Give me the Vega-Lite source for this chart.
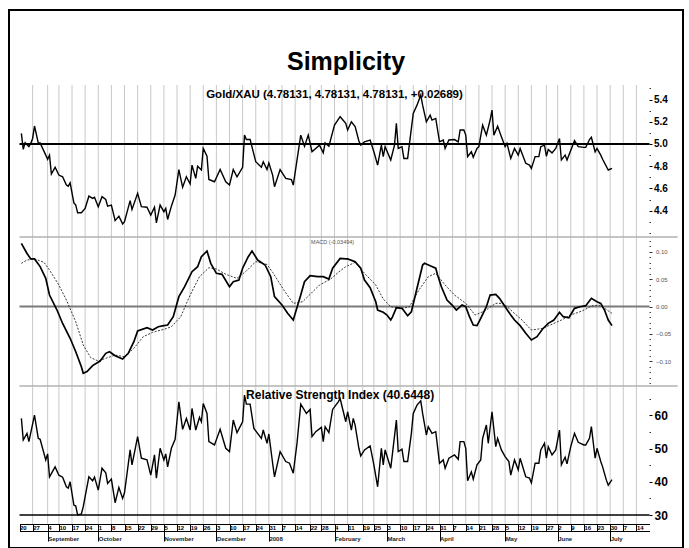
{
  "$schema": "https://vega.github.io/schema/vega-lite/v6.json",
  "width": 674,
  "height": 538,
  "padding": {"left": 9, "top": 10, "right": 6, "bottom": 0},
  "autosize": {"type": "none"},
  "background": "white",
  "config": {"view": {"stroke": "black", "strokeWidth": 2}, "font": "Liberation Sans"},
  "title": {"text": "Simplicity", "font": "Liberation Sans", "fontSize": 25, "fontWeight": "bold", "color": "black", "anchor": "middle", "frame": "group", "baseline": "alphabetic", "offset": -85},
  "datasets": {
    "weeks": [
      {"d": "2007-08-27"}, {"d": "2007-09-04"}, {"d": "2007-09-10"}, {"d": "2007-09-17"}, {"d": "2007-09-24"},
      {"d": "2007-10-01"}, {"d": "2007-10-08"}, {"d": "2007-10-15"}, {"d": "2007-10-22"}, {"d": "2007-10-29"},
      {"d": "2007-11-05"}, {"d": "2007-11-12"}, {"d": "2007-11-19"}, {"d": "2007-11-26"}, {"d": "2007-12-03"},
      {"d": "2007-12-10"}, {"d": "2007-12-17"}, {"d": "2007-12-24"}, {"d": "2007-12-31"}, {"d": "2008-01-07"},
      {"d": "2008-01-14"}, {"d": "2008-01-22"}, {"d": "2008-01-28"}, {"d": "2008-02-04"}, {"d": "2008-02-11"},
      {"d": "2008-02-19"}, {"d": "2008-02-25"}, {"d": "2008-03-03"}, {"d": "2008-03-10"}, {"d": "2008-03-17"},
      {"d": "2008-03-24"}, {"d": "2008-03-31"}, {"d": "2008-04-07"}, {"d": "2008-04-14"}, {"d": "2008-04-21"},
      {"d": "2008-04-28"}, {"d": "2008-05-05"}, {"d": "2008-05-12"}, {"d": "2008-05-19"}, {"d": "2008-05-27"},
      {"d": "2008-06-02"}, {"d": "2008-06-09"}, {"d": "2008-06-16"}, {"d": "2008-06-23"}, {"d": "2008-06-30"},
      {"d": "2008-07-07"}, {"d": "2008-07-14"}
    ],
    "price": [
      {"date": "2007-08-21", "value": 5.096}, {"date": "2007-08-22", "value": 4.952}, {"date": "2007-08-23", "value": 5.012},
      {"date": "2007-08-25", "value": 4.976}, {"date": "2007-08-26", "value": 5.006}, {"date": "2007-08-27", "value": 5.05},
      {"date": "2007-08-28", "value": 5.162}, {"date": "2007-08-30", "value": 5.01}, {"date": "2007-08-31", "value": 5.01},
      {"date": "2007-09-03", "value": 4.9}, {"date": "2007-09-04", "value": 4.862}, {"date": "2007-09-05", "value": 4.9},
      {"date": "2007-09-06", "value": 4.73}, {"date": "2007-09-08", "value": 4.79}, {"date": "2007-09-10", "value": 4.72},
      {"date": "2007-09-12", "value": 4.705}, {"date": "2007-09-14", "value": 4.63}, {"date": "2007-09-15", "value": 4.62},
      {"date": "2007-09-16", "value": 4.65}, {"date": "2007-09-18", "value": 4.47}, {"date": "2007-09-19", "value": 4.45},
      {"date": "2007-09-20", "value": 4.38}, {"date": "2007-09-22", "value": 4.38}, {"date": "2007-09-24", "value": 4.42},
      {"date": "2007-09-26", "value": 4.53}, {"date": "2007-09-28", "value": 4.51}, {"date": "2007-09-29", "value": 4.52},
      {"date": "2007-10-01", "value": 4.435}, {"date": "2007-10-03", "value": 4.525}, {"date": "2007-10-05", "value": 4.5},
      {"date": "2007-10-06", "value": 4.44}, {"date": "2007-10-08", "value": 4.45}, {"date": "2007-10-10", "value": 4.31},
      {"date": "2007-10-12", "value": 4.35}, {"date": "2007-10-14", "value": 4.28}, {"date": "2007-10-15", "value": 4.3},
      {"date": "2007-10-18", "value": 4.49}, {"date": "2007-10-19", "value": 4.41}, {"date": "2007-10-22", "value": 4.556},
      {"date": "2007-10-24", "value": 4.435}, {"date": "2007-10-27", "value": 4.43}, {"date": "2007-10-29", "value": 4.36},
      {"date": "2007-10-31", "value": 4.43}, {"date": "2007-11-01", "value": 4.29}, {"date": "2007-11-03", "value": 4.45},
      {"date": "2007-11-05", "value": 4.39}, {"date": "2007-11-06", "value": 4.42}, {"date": "2007-11-07", "value": 4.32},
      {"date": "2007-11-09", "value": 4.44}, {"date": "2007-11-11", "value": 4.54}, {"date": "2007-11-13", "value": 4.77},
      {"date": "2007-11-15", "value": 4.61}, {"date": "2007-11-17", "value": 4.705}, {"date": "2007-11-19", "value": 4.64},
      {"date": "2007-11-20", "value": 4.81}, {"date": "2007-11-22", "value": 4.69}, {"date": "2007-11-23", "value": 4.8},
      {"date": "2007-11-25", "value": 4.766}, {"date": "2007-11-26", "value": 4.96}, {"date": "2007-11-28", "value": 4.89},
      {"date": "2007-11-29", "value": 4.68}, {"date": "2007-12-02", "value": 4.66}, {"date": "2007-12-05", "value": 4.77},
      {"date": "2007-12-08", "value": 4.66}, {"date": "2007-12-10", "value": 4.63}, {"date": "2007-12-12", "value": 4.77},
      {"date": "2007-12-14", "value": 4.705}, {"date": "2007-12-17", "value": 4.79}, {"date": "2007-12-18", "value": 5.08},
      {"date": "2007-12-19", "value": 5.04}, {"date": "2007-12-21", "value": 5.04}, {"date": "2007-12-24", "value": 4.84},
      {"date": "2007-12-27", "value": 4.79}, {"date": "2007-12-28", "value": 4.84}, {"date": "2007-12-30", "value": 4.77},
      {"date": "2007-12-31", "value": 4.83}, {"date": "2008-01-02", "value": 4.72}, {"date": "2008-01-03", "value": 4.615},
      {"date": "2008-01-06", "value": 4.77}, {"date": "2008-01-09", "value": 4.69}, {"date": "2008-01-12", "value": 4.68},
      {"date": "2008-01-13", "value": 4.63}, {"date": "2008-01-17", "value": 5.08}, {"date": "2008-01-19", "value": 4.98},
      {"date": "2008-01-21", "value": 5.08}, {"date": "2008-01-23", "value": 4.93}, {"date": "2008-01-27", "value": 4.99},
      {"date": "2008-01-29", "value": 4.92}, {"date": "2008-01-30", "value": 5.01}, {"date": "2008-02-01", "value": 4.98},
      {"date": "2008-02-04", "value": 5.17}, {"date": "2008-02-07", "value": 5.246}, {"date": "2008-02-10", "value": 5.186},
      {"date": "2008-02-11", "value": 5.126}, {"date": "2008-02-13", "value": 5.2}, {"date": "2008-02-15", "value": 5.156},
      {"date": "2008-02-17", "value": 5.027}, {"date": "2008-02-18", "value": 4.99}, {"date": "2008-02-20", "value": 5.02},
      {"date": "2008-02-23", "value": 5.036}, {"date": "2008-02-25", "value": 4.93}, {"date": "2008-02-27", "value": 4.81},
      {"date": "2008-02-29", "value": 4.99}, {"date": "2008-03-01", "value": 4.886}, {"date": "2008-03-02", "value": 4.976},
      {"date": "2008-03-05", "value": 4.856}, {"date": "2008-03-07", "value": 4.99}, {"date": "2008-03-08", "value": 5.186},
      {"date": "2008-03-09", "value": 4.96}, {"date": "2008-03-11", "value": 4.976}, {"date": "2008-03-12", "value": 4.87},
      {"date": "2008-03-14", "value": 4.87}, {"date": "2008-03-15", "value": 5.006}, {"date": "2008-03-17", "value": 5.276},
      {"date": "2008-03-19", "value": 5.35}, {"date": "2008-03-21", "value": 5.44}, {"date": "2008-03-22", "value": 5.35},
      {"date": "2008-03-24", "value": 5.2}, {"date": "2008-03-26", "value": 5.26}, {"date": "2008-03-27", "value": 5.216},
      {"date": "2008-03-29", "value": 5.23}, {"date": "2008-03-31", "value": 5.02}, {"date": "2008-04-02", "value": 5.036},
      {"date": "2008-04-03", "value": 4.96}, {"date": "2008-04-05", "value": 5.036}, {"date": "2008-04-08", "value": 5.04},
      {"date": "2008-04-10", "value": 5.02}, {"date": "2008-04-11", "value": 5.126}, {"date": "2008-04-13", "value": 5.126},
      {"date": "2008-04-14", "value": 5.08}, {"date": "2008-04-15", "value": 4.886}, {"date": "2008-04-17", "value": 4.93},
      {"date": "2008-04-18", "value": 4.88}, {"date": "2008-04-20", "value": 4.96}, {"date": "2008-04-21", "value": 4.976},
      {"date": "2008-04-23", "value": 5.17}, {"date": "2008-04-25", "value": 5.08}, {"date": "2008-04-27", "value": 5.216},
      {"date": "2008-04-28", "value": 5.306}, {"date": "2008-04-29", "value": 5.08}, {"date": "2008-05-01", "value": 5.16},
      {"date": "2008-05-03", "value": 5.066}, {"date": "2008-05-05", "value": 4.976}, {"date": "2008-05-06", "value": 5.006},
      {"date": "2008-05-08", "value": 4.87}, {"date": "2008-05-10", "value": 4.96}, {"date": "2008-05-12", "value": 4.9},
      {"date": "2008-05-13", "value": 4.96}, {"date": "2008-05-16", "value": 4.826}, {"date": "2008-05-18", "value": 4.81},
      {"date": "2008-05-19", "value": 4.78}, {"date": "2008-05-21", "value": 4.886}, {"date": "2008-05-23", "value": 4.886},
      {"date": "2008-05-24", "value": 4.976}, {"date": "2008-05-26", "value": 4.99}, {"date": "2008-05-27", "value": 4.89},
      {"date": "2008-05-28", "value": 4.95}, {"date": "2008-05-30", "value": 4.92}, {"date": "2008-06-01", "value": 4.96},
      {"date": "2008-06-03", "value": 5.05}, {"date": "2008-06-04", "value": 4.856}, {"date": "2008-06-06", "value": 4.9},
      {"date": "2008-06-07", "value": 4.856}, {"date": "2008-06-11", "value": 5.03}, {"date": "2008-06-13", "value": 4.976},
      {"date": "2008-06-16", "value": 4.97}, {"date": "2008-06-17", "value": 4.97}, {"date": "2008-06-19", "value": 5.04},
      {"date": "2008-06-20", "value": 5.06}, {"date": "2008-06-22", "value": 4.93}, {"date": "2008-06-23", "value": 4.96},
      {"date": "2008-06-25", "value": 4.9}, {"date": "2008-06-26", "value": 4.862}, {"date": "2008-06-29", "value": 4.766},
      {"date": "2008-07-01", "value": 4.78131}
    ],
    "macd": [
      {"date": "2007-08-21", "value": 0.1155}, {"date": "2007-08-24", "value": 0.097}, {"date": "2007-08-26", "value": 0.087},
      {"date": "2007-08-28", "value": 0.087}, {"date": "2007-08-31", "value": 0.073}, {"date": "2007-09-03", "value": 0.0515},
      {"date": "2007-09-05", "value": 0.021}, {"date": "2007-09-09", "value": -0.0064}, {"date": "2007-09-12", "value": -0.031},
      {"date": "2007-09-16", "value": -0.058}, {"date": "2007-09-19", "value": -0.0826}, {"date": "2007-09-22", "value": -0.11},
      {"date": "2007-09-23", "value": -0.122}, {"date": "2007-09-25", "value": -0.119}, {"date": "2007-09-28", "value": -0.108},
      {"date": "2007-10-02", "value": -0.0996}, {"date": "2007-10-05", "value": -0.0856}, {"date": "2007-10-07", "value": -0.0826},
      {"date": "2007-10-10", "value": -0.09}, {"date": "2007-10-14", "value": -0.096}, {"date": "2007-10-17", "value": -0.0856},
      {"date": "2007-10-20", "value": -0.0643}, {"date": "2007-10-22", "value": -0.0448}, {"date": "2007-10-27", "value": -0.0387},
      {"date": "2007-10-30", "value": -0.043}, {"date": "2007-11-02", "value": -0.037}, {"date": "2007-11-05", "value": -0.035},
      {"date": "2007-11-07", "value": -0.0338}, {"date": "2007-11-10", "value": -0.0186}, {"date": "2007-11-13", "value": 0.018},
      {"date": "2007-11-16", "value": 0.036}, {"date": "2007-11-20", "value": 0.0636}, {"date": "2007-11-23", "value": 0.0728},
      {"date": "2007-11-25", "value": 0.091}, {"date": "2007-11-28", "value": 0.1015}, {"date": "2007-11-30", "value": 0.079},
      {"date": "2007-12-03", "value": 0.0607}, {"date": "2007-12-06", "value": 0.0589}, {"date": "2007-12-10", "value": 0.0362},
      {"date": "2007-12-12", "value": 0.0453}, {"date": "2007-12-15", "value": 0.0484}, {"date": "2007-12-17", "value": 0.07},
      {"date": "2007-12-20", "value": 0.091}, {"date": "2007-12-22", "value": 0.1015}, {"date": "2007-12-25", "value": 0.085},
      {"date": "2007-12-29", "value": 0.0759}, {"date": "2008-01-01", "value": 0.0545}, {"date": "2008-01-03", "value": 0.018},
      {"date": "2008-01-07", "value": 0.0027}, {"date": "2008-01-10", "value": -0.0124}, {"date": "2008-01-13", "value": -0.0247},
      {"date": "2008-01-17", "value": 0.021}, {"date": "2008-01-19", "value": 0.0453}, {"date": "2008-01-22", "value": 0.0563},
      {"date": "2008-01-26", "value": 0.0545}, {"date": "2008-01-29", "value": 0.0545}, {"date": "2008-02-01", "value": 0.0503},
      {"date": "2008-02-03", "value": 0.07}, {"date": "2008-02-07", "value": 0.088}, {"date": "2008-02-10", "value": 0.087},
      {"date": "2008-02-11", "value": 0.087}, {"date": "2008-02-15", "value": 0.082}, {"date": "2008-02-18", "value": 0.07},
      {"date": "2008-02-20", "value": 0.0484}, {"date": "2008-02-23", "value": 0.0344}, {"date": "2008-02-26", "value": 0.0088},
      {"date": "2008-02-27", "value": -0.0064}, {"date": "2008-03-01", "value": -0.0106}, {"date": "2008-03-03", "value": -0.0155},
      {"date": "2008-03-05", "value": -0.0247}, {"date": "2008-03-06", "value": -0.0186}, {"date": "2008-03-08", "value": -0.0022},
      {"date": "2008-03-11", "value": -0.0033}, {"date": "2008-03-13", "value": -0.0124}, {"date": "2008-03-14", "value": -0.0168},
      {"date": "2008-03-16", "value": -0.0095}, {"date": "2008-03-19", "value": 0.0333}, {"date": "2008-03-22", "value": 0.0759},
      {"date": "2008-03-23", "value": 0.079}, {"date": "2008-03-26", "value": 0.0746}, {"date": "2008-03-29", "value": 0.07},
      {"date": "2008-03-30", "value": 0.0576}, {"date": "2008-04-01", "value": 0.0362}, {"date": "2008-04-04", "value": 0.0119},
      {"date": "2008-04-07", "value": 0.0015}, {"date": "2008-04-09", "value": -0.0064}, {"date": "2008-04-12", "value": 0.0027},
      {"date": "2008-04-14", "value": -0.0004}, {"date": "2008-04-16", "value": -0.0186}, {"date": "2008-04-18", "value": -0.0338},
      {"date": "2008-04-20", "value": -0.035}, {"date": "2008-04-22", "value": -0.0216}, {"date": "2008-04-25", "value": -0.0004},
      {"date": "2008-04-27", "value": 0.021}, {"date": "2008-04-30", "value": 0.0223}, {"date": "2008-05-02", "value": 0.015},
      {"date": "2008-05-05", "value": -0.0004}, {"date": "2008-05-08", "value": -0.0155}, {"date": "2008-05-10", "value": -0.0247},
      {"date": "2008-05-13", "value": -0.035}, {"date": "2008-05-16", "value": -0.049}, {"date": "2008-05-19", "value": -0.0612},
      {"date": "2008-05-22", "value": -0.0552}, {"date": "2008-05-25", "value": -0.0411}, {"date": "2008-05-28", "value": -0.0307},
      {"date": "2008-05-31", "value": -0.0247}, {"date": "2008-06-03", "value": -0.0106}, {"date": "2008-06-05", "value": -0.0186},
      {"date": "2008-06-08", "value": -0.0205}, {"date": "2008-06-11", "value": -0.0033}, {"date": "2008-06-14", "value": -0.0004},
      {"date": "2008-06-17", "value": 0.0015}, {"date": "2008-06-20", "value": 0.015}, {"date": "2008-06-23", "value": 0.0088},
      {"date": "2008-06-25", "value": 0.0058}, {"date": "2008-06-27", "value": -0.0064}, {"date": "2008-06-29", "value": -0.0247},
      {"date": "2008-07-01", "value": -0.03494}
    ],
    "signal": [
      {"date": "2007-08-21", "value": 0.079}, {"date": "2007-08-24", "value": 0.085}, {"date": "2007-08-28", "value": 0.087},
      {"date": "2007-09-02", "value": 0.081}, {"date": "2007-09-05", "value": 0.0667}, {"date": "2007-09-10", "value": 0.0393},
      {"date": "2007-09-14", "value": 0.0119}, {"date": "2007-09-19", "value": -0.0278}, {"date": "2007-09-23", "value": -0.0704},
      {"date": "2007-09-27", "value": -0.0936}, {"date": "2007-10-01", "value": -0.0996}, {"date": "2007-10-05", "value": -0.0947},
      {"date": "2007-10-10", "value": -0.0887}, {"date": "2007-10-15", "value": -0.0918}, {"date": "2007-10-20", "value": -0.0764},
      {"date": "2007-10-25", "value": -0.0552}, {"date": "2007-10-30", "value": -0.0472}, {"date": "2007-11-05", "value": -0.0417},
      {"date": "2007-11-09", "value": -0.037}, {"date": "2007-11-14", "value": -0.0186}, {"date": "2007-11-19", "value": 0.021},
      {"date": "2007-11-24", "value": 0.0545}, {"date": "2007-11-29", "value": 0.071}, {"date": "2007-12-03", "value": 0.0686},
      {"date": "2007-12-08", "value": 0.0589}, {"date": "2007-12-14", "value": 0.0516}, {"date": "2007-12-19", "value": 0.065},
      {"date": "2007-12-24", "value": 0.082}, {"date": "2007-12-30", "value": 0.077}, {"date": "2008-01-02", "value": 0.0625},
      {"date": "2008-01-08", "value": 0.03}, {"date": "2008-01-13", "value": 0.0058}, {"date": "2008-01-18", "value": 0.0088},
      {"date": "2008-01-22", "value": 0.0223}, {"date": "2008-01-27", "value": 0.0393}, {"date": "2008-02-02", "value": 0.0503},
      {"date": "2008-02-06", "value": 0.0625}, {"date": "2008-02-10", "value": 0.0728}, {"date": "2008-02-15", "value": 0.0808},
      {"date": "2008-02-20", "value": 0.0607}, {"date": "2008-02-26", "value": 0.0393}, {"date": "2008-03-01", "value": 0.0137},
      {"date": "2008-03-05", "value": -0.0004}, {"date": "2008-03-11", "value": -0.0033}, {"date": "2008-03-15", "value": -0.0004},
      {"date": "2008-03-20", "value": 0.03}, {"date": "2008-03-25", "value": 0.0545}, {"date": "2008-03-29", "value": 0.0607},
      {"date": "2008-04-03", "value": 0.0393}, {"date": "2008-04-08", "value": 0.021}, {"date": "2008-04-14", "value": 0.0058},
      {"date": "2008-04-19", "value": -0.0155}, {"date": "2008-04-24", "value": -0.0082}, {"date": "2008-04-30", "value": 0.0058},
      {"date": "2008-05-04", "value": 0.0058}, {"date": "2008-05-08", "value": -0.0064}, {"date": "2008-05-14", "value": -0.0247},
      {"date": "2008-05-19", "value": -0.043}, {"date": "2008-05-25", "value": -0.04}, {"date": "2008-05-30", "value": -0.0325},
      {"date": "2008-06-04", "value": -0.0247}, {"date": "2008-06-09", "value": -0.0155}, {"date": "2008-06-15", "value": -0.0082},
      {"date": "2008-06-20", "value": 0.0009}, {"date": "2008-06-24", "value": 0.0027}, {"date": "2008-06-27", "value": -0.0033},
      {"date": "2008-07-01", "value": -0.0124}
    ],
    "rsi": [
      {"date": "2007-08-21", "value": 59.1}, {"date": "2007-08-22", "value": 52.6}, {"date": "2007-08-24", "value": 54.6},
      {"date": "2007-08-25", "value": 52.1}, {"date": "2007-08-28", "value": 60.1}, {"date": "2007-08-30", "value": 53.1},
      {"date": "2007-08-31", "value": 52.8}, {"date": "2007-09-03", "value": 46.6}, {"date": "2007-09-04", "value": 48.4},
      {"date": "2007-09-05", "value": 41.5}, {"date": "2007-09-08", "value": 44.5}, {"date": "2007-09-10", "value": 42.0},
      {"date": "2007-09-12", "value": 41.4}, {"date": "2007-09-14", "value": 38.5}, {"date": "2007-09-15", "value": 38.1},
      {"date": "2007-09-16", "value": 40.0}, {"date": "2007-09-18", "value": 33.0}, {"date": "2007-09-19", "value": 32.7},
      {"date": "2007-09-20", "value": 30.0}, {"date": "2007-09-22", "value": 30.3}, {"date": "2007-09-23", "value": 32.5},
      {"date": "2007-09-26", "value": 41.5}, {"date": "2007-09-28", "value": 40.3}, {"date": "2007-09-29", "value": 41.4},
      {"date": "2007-10-01", "value": 37.5}, {"date": "2007-10-03", "value": 44.1}, {"date": "2007-10-05", "value": 42.7},
      {"date": "2007-10-06", "value": 39.5}, {"date": "2007-10-08", "value": 40.8}, {"date": "2007-10-10", "value": 33.7},
      {"date": "2007-10-12", "value": 38.3}, {"date": "2007-10-14", "value": 35.0}, {"date": "2007-10-15", "value": 36.7},
      {"date": "2007-10-18", "value": 49.6}, {"date": "2007-10-19", "value": 45.1}, {"date": "2007-10-22", "value": 53.6},
      {"date": "2007-10-24", "value": 47.1}, {"date": "2007-10-27", "value": 46.6}, {"date": "2007-10-29", "value": 42.0},
      {"date": "2007-10-31", "value": 48.1}, {"date": "2007-11-01", "value": 41.1}, {"date": "2007-11-03", "value": 50.1},
      {"date": "2007-11-05", "value": 46.6}, {"date": "2007-11-06", "value": 48.4}, {"date": "2007-11-07", "value": 44.5},
      {"date": "2007-11-09", "value": 50.1}, {"date": "2007-11-11", "value": 52.8}, {"date": "2007-11-13", "value": 64.1},
      {"date": "2007-11-15", "value": 55.8}, {"date": "2007-11-17", "value": 59.1}, {"date": "2007-11-19", "value": 55.6},
      {"date": "2007-11-20", "value": 62.1}, {"date": "2007-11-22", "value": 55.6}, {"date": "2007-11-24", "value": 59.4},
      {"date": "2007-11-25", "value": 58.1}, {"date": "2007-11-26", "value": 63.6}, {"date": "2007-11-28", "value": 60.6},
      {"date": "2007-11-29", "value": 52.1}, {"date": "2007-12-02", "value": 51.1}, {"date": "2007-12-05", "value": 55.8},
      {"date": "2007-12-08", "value": 50.1}, {"date": "2007-12-10", "value": 49.1}, {"date": "2007-12-12", "value": 58.6},
      {"date": "2007-12-14", "value": 54.8}, {"date": "2007-12-17", "value": 58.1}, {"date": "2007-12-18", "value": 66.1},
      {"date": "2007-12-19", "value": 63.4}, {"date": "2007-12-21", "value": 63.4}, {"date": "2007-12-23", "value": 56.1},
      {"date": "2007-12-27", "value": 53.1}, {"date": "2007-12-28", "value": 55.6}, {"date": "2007-12-30", "value": 51.6},
      {"date": "2007-12-31", "value": 54.4}, {"date": "2008-01-02", "value": 45.6}, {"date": "2008-01-03", "value": 41.5},
      {"date": "2008-01-06", "value": 49.1}, {"date": "2008-01-09", "value": 46.1}, {"date": "2008-01-11", "value": 45.6},
      {"date": "2008-01-13", "value": 42.6}, {"date": "2008-01-15", "value": 51.6}, {"date": "2008-01-17", "value": 63.4},
      {"date": "2008-01-20", "value": 60.6}, {"date": "2008-01-22", "value": 61.8}, {"date": "2008-01-23", "value": 53.6},
      {"date": "2008-01-25", "value": 55.1}, {"date": "2008-01-28", "value": 56.4}, {"date": "2008-01-29", "value": 52.1},
      {"date": "2008-01-30", "value": 56.6}, {"date": "2008-02-01", "value": 54.8}, {"date": "2008-02-03", "value": 61.8},
      {"date": "2008-02-06", "value": 64.1}, {"date": "2008-02-07", "value": 65.1}, {"date": "2008-02-10", "value": 58.1},
      {"date": "2008-02-11", "value": 61.1}, {"date": "2008-02-13", "value": 55.6}, {"date": "2008-02-14", "value": 59.1},
      {"date": "2008-02-15", "value": 57.1}, {"date": "2008-02-17", "value": 50.1}, {"date": "2008-02-18", "value": 47.8},
      {"date": "2008-02-20", "value": 49.6}, {"date": "2008-02-23", "value": 50.8}, {"date": "2008-02-25", "value": 45.1},
      {"date": "2008-02-27", "value": 38.5}, {"date": "2008-02-29", "value": 50.1}, {"date": "2008-03-01", "value": 45.1},
      {"date": "2008-03-02", "value": 49.6}, {"date": "2008-03-05", "value": 44.1}, {"date": "2008-03-08", "value": 58.6},
      {"date": "2008-03-09", "value": 49.1}, {"date": "2008-03-11", "value": 49.8}, {"date": "2008-03-12", "value": 46.1},
      {"date": "2008-03-14", "value": 46.1}, {"date": "2008-03-16", "value": 54.6}, {"date": "2008-03-17", "value": 60.6},
      {"date": "2008-03-19", "value": 63.1}, {"date": "2008-03-21", "value": 64.4}, {"date": "2008-03-22", "value": 60.6},
      {"date": "2008-03-24", "value": 54.1}, {"date": "2008-03-25", "value": 56.6}, {"date": "2008-03-27", "value": 54.6},
      {"date": "2008-03-29", "value": 55.1}, {"date": "2008-03-31", "value": 45.6}, {"date": "2008-04-02", "value": 46.6},
      {"date": "2008-04-03", "value": 44.1}, {"date": "2008-04-05", "value": 47.1}, {"date": "2008-04-08", "value": 48.1},
      {"date": "2008-04-10", "value": 46.8}, {"date": "2008-04-11", "value": 52.1}, {"date": "2008-04-13", "value": 52.1},
      {"date": "2008-04-14", "value": 50.1}, {"date": "2008-04-15", "value": 40.3}, {"date": "2008-04-17", "value": 43.0},
      {"date": "2008-04-18", "value": 40.8}, {"date": "2008-04-20", "value": 45.1}, {"date": "2008-04-22", "value": 46.6},
      {"date": "2008-04-23", "value": 53.1}, {"date": "2008-04-25", "value": 57.1}, {"date": "2008-04-26", "value": 51.6},
      {"date": "2008-04-28", "value": 61.1}, {"date": "2008-04-30", "value": 50.6}, {"date": "2008-05-01", "value": 53.1},
      {"date": "2008-05-03", "value": 49.6}, {"date": "2008-05-05", "value": 47.6}, {"date": "2008-05-07", "value": 46.1},
      {"date": "2008-05-08", "value": 42.0}, {"date": "2008-05-10", "value": 46.6}, {"date": "2008-05-12", "value": 43.6},
      {"date": "2008-05-13", "value": 47.1}, {"date": "2008-05-16", "value": 41.5}, {"date": "2008-05-18", "value": 41.1},
      {"date": "2008-05-19", "value": 39.7}, {"date": "2008-05-21", "value": 45.6}, {"date": "2008-05-23", "value": 45.6},
      {"date": "2008-05-24", "value": 49.6}, {"date": "2008-05-26", "value": 51.6}, {"date": "2008-05-27", "value": 47.1},
      {"date": "2008-05-28", "value": 50.6}, {"date": "2008-05-30", "value": 48.1}, {"date": "2008-06-01", "value": 49.6},
      {"date": "2008-06-03", "value": 55.6}, {"date": "2008-06-04", "value": 45.1}, {"date": "2008-06-06", "value": 47.4},
      {"date": "2008-06-07", "value": 45.4}, {"date": "2008-06-09", "value": 50.6}, {"date": "2008-06-11", "value": 54.6},
      {"date": "2008-06-13", "value": 51.9}, {"date": "2008-06-16", "value": 51.1}, {"date": "2008-06-17", "value": 51.1},
      {"date": "2008-06-19", "value": 53.1}, {"date": "2008-06-20", "value": 56.6}, {"date": "2008-06-22", "value": 47.1},
      {"date": "2008-06-23", "value": 50.1}, {"date": "2008-06-25", "value": 46.1}, {"date": "2008-06-26", "value": 44.5},
      {"date": "2008-06-28", "value": 40.5}, {"date": "2008-06-29", "value": 39.0}, {"date": "2008-07-01", "value": 40.6448}
    ]
  },
  "layer": [
    {
      "resolve": {"axis": {"y": "independent"}},
      "layer": [
        {
          "data": {"name": "weeks"},
          "mark": {"type": "rule", "color": "#c8c8c8", "strokeWidth": 1},
          "encoding": {
            "x": {"field": "d", "type": "temporal", "axis": null,
                  "scale": {"type": "utc", "domain": [{"year": 2007, "month": 8, "date": 20, "utc": true}, {"year": 2008, "month": 7, "date": 21, "utc": true}], "range": [10.5, 640.5]}},
            "y": {"datum": 5.5315, "type": "quantitative", "axis": null,
                  "scale": {"domain": [4.1622, 5.5315], "range": [227, 75], "zero": false, "nice": false}},
            "y2": {"datum": 4.1622}
          }
        },
        {
          "data": {"values": [{}]},
          "mark": {"type": "rule", "color": "#8a8a8a", "strokeWidth": 1},
          "encoding": {
            "x": {"datum": {"year": 2007, "month": 8, "date": 20, "utc": true}, "type": "temporal", "axis": null},
            "x2": {"datum": {"year": 2008, "month": 8, "date": 5, "utc": true}},
            "y": {"datum": 4.1622, "type": "quantitative",
                  "axis": {"orient": "right", "offset": -34, "values": [4.2, 4.3, 4.5, 4.7, 4.9, 5.1, 5.3, 5.5], "domain": false, "grid": false, "labels": false, "tickSize": 1.5, "tickWidth": 1.2, "tickColor": "#333333", "title": null}}
          }
        },
        {
          "data": {"values": [{}]},
          "mark": {"type": "rule", "color": "black", "strokeWidth": 2},
          "encoding": {
            "x": {"datum": {"year": 2007, "month": 8, "date": 20, "utc": true}, "type": "temporal", "axis": null},
            "x2": {"datum": {"year": 2008, "month": 7, "date": 21, "utc": true}},
            "y": {"datum": 5.0, "type": "quantitative", "axis": null}
          }
        },
        {
          "data": {"name": "price"},
          "mark": {"type": "line", "color": "black", "strokeWidth": 1.4},
          "encoding": {
            "x": {"field": "date", "type": "temporal", "axis": null},
            "y": {"field": "value", "type": "quantitative",
                  "axis": {"orient": "right", "offset": -34, "values": [4.4, 4.6, 4.8, 5.0, 5.2, 5.4], "format": ".1f", "domain": false, "grid": false, "tickSize": 3, "tickWidth": 1, "tickColor": "black", "labelFont": "Liberation Sans", "labelFontSize": 10, "labelFontWeight": "bold", "labelColor": "black", "labelPadding": 1.5, "labelOverlap": false, "labelBound": false, "labelFlush": false, "title": null}}
          }
        },
        {
          "data": {"values": [{}]},
          "mark": {"type": "text", "text": "Gold/XAU (4.78131, 4.78131, 4.78131, +0.02689)", "font": "Liberation Sans", "fontSize": 11.5, "fontWeight": "bold", "color": "black", "align": "center", "baseline": "middle"},
          "encoding": {
            "x": {"datum": {"year": 2008, "month": 2, "date": 4, "utc": true}, "type": "temporal", "axis": null},
            "y": {"datum": 5.44, "type": "quantitative", "axis": null}
          }
        }
      ]
    },
    {
      "resolve": {"axis": {"y": "independent"}},
      "layer": [
        {
          "data": {"name": "weeks"},
          "mark": {"type": "rule", "color": "#c8c8c8", "strokeWidth": 1},
          "encoding": {
            "x": {"field": "d", "type": "temporal", "axis": null},
            "y": {"datum": 0.1271, "type": "quantitative", "axis": null,
                  "scale": {"domain": [-0.1453, 0.1271], "range": [376, 227], "zero": false, "nice": false}},
            "y2": {"datum": -0.1453}
          }
        },
        {
          "data": {"values": [{}]},
          "mark": {"type": "rule", "color": "#8a8a8a", "strokeWidth": 1},
          "encoding": {
            "x": {"datum": {"year": 2007, "month": 8, "date": 20, "utc": true}, "type": "temporal", "axis": null},
            "x2": {"datum": {"year": 2008, "month": 8, "date": 5, "utc": true}},
            "y": {"datum": -0.1453, "type": "quantitative",
                  "axis": {"orient": "right", "offset": -34, "values": [-0.14, -0.13, -0.12, -0.11, -0.09, -0.08, -0.07, -0.06, -0.04, -0.03, -0.02, -0.01, 0.01, 0.02, 0.03, 0.04, 0.06, 0.07, 0.08, 0.09, 0.11, 0.12], "domain": false, "grid": false, "labels": false, "tickSize": 1.5, "tickWidth": 1, "tickColor": "#444444", "title": null}}
          }
        },
        {
          "data": {"values": [{}]},
          "mark": {"type": "rule", "color": "#7a7a7a", "strokeWidth": 2},
          "encoding": {
            "x": {"datum": {"year": 2007, "month": 8, "date": 20, "utc": true}, "type": "temporal", "axis": null},
            "x2": {"datum": {"year": 2008, "month": 7, "date": 21, "utc": true}},
            "y": {"datum": 0, "type": "quantitative", "axis": null}
          }
        },
        {
          "data": {"name": "signal"},
          "mark": {"type": "line", "color": "#222222", "strokeWidth": 0.9, "strokeDash": [2, 1.5]},
          "encoding": {
            "x": {"field": "date", "type": "temporal", "axis": null},
            "y": {"field": "value", "type": "quantitative", "axis": null}
          }
        },
        {
          "data": {"name": "macd"},
          "mark": {"type": "line", "color": "black", "strokeWidth": 1.7},
          "encoding": {
            "x": {"field": "date", "type": "temporal", "axis": null},
            "y": {"field": "value", "type": "quantitative",
                  "axis": {"orient": "right", "offset": -34, "values": [-0.1, -0.05, 0, 0.05, 0.1], "format": ".2f", "domain": false, "grid": false, "tickSize": 3, "tickWidth": 1, "tickColor": "#333333", "labelFont": "Liberation Sans", "labelFontSize": 6, "labelColor": "#555555", "labelPadding": 3.5, "labelOverlap": false, "labelBound": false, "labelFlush": false, "title": null}}
          }
        },
        {
          "data": {"values": [{}]},
          "mark": {"type": "text", "text": "MACD (-0.03494)", "font": "Liberation Sans", "fontSize": 5.5, "color": "#555555", "align": "center", "baseline": "middle"},
          "encoding": {
            "x": {"datum": {"year": 2008, "month": 2, "date": 3, "utc": true}, "type": "temporal", "axis": null},
            "y": {"datum": 0.1185, "type": "quantitative", "axis": null}
          }
        }
      ]
    },
    {
      "resolve": {"axis": {"y": "independent", "x": "independent"}},
      "layer": [
        {
          "data": {"name": "weeks"},
          "mark": {"type": "rule", "color": "#c8c8c8", "strokeWidth": 1},
          "encoding": {
            "x": {"field": "d", "type": "temporal",
                  "axis": {"orient": "bottom", "offset": -24,
                           "values": [{"year": 2007, "month": 8, "date": 20, "utc": true}, {"year": 2007, "month": 8, "date": 27, "utc": true}, {"year": 2007, "month": 9, "date": 4, "utc": true}, {"year": 2007, "month": 9, "date": 10, "utc": true}, {"year": 2007, "month": 9, "date": 17, "utc": true}, {"year": 2007, "month": 9, "date": 24, "utc": true}, {"year": 2007, "month": 10, "date": 1, "utc": true}, {"year": 2007, "month": 10, "date": 8, "utc": true}, {"year": 2007, "month": 10, "date": 15, "utc": true}, {"year": 2007, "month": 10, "date": 22, "utc": true}, {"year": 2007, "month": 10, "date": 29, "utc": true}, {"year": 2007, "month": 11, "date": 5, "utc": true}, {"year": 2007, "month": 11, "date": 12, "utc": true}, {"year": 2007, "month": 11, "date": 19, "utc": true}, {"year": 2007, "month": 11, "date": 26, "utc": true}, {"year": 2007, "month": 12, "date": 3, "utc": true}, {"year": 2007, "month": 12, "date": 10, "utc": true}, {"year": 2007, "month": 12, "date": 17, "utc": true}, {"year": 2007, "month": 12, "date": 24, "utc": true}, {"year": 2007, "month": 12, "date": 31, "utc": true}, {"year": 2008, "month": 1, "date": 7, "utc": true}, {"year": 2008, "month": 1, "date": 14, "utc": true}, {"year": 2008, "month": 1, "date": 22, "utc": true}, {"year": 2008, "month": 1, "date": 28, "utc": true}, {"year": 2008, "month": 2, "date": 4, "utc": true}, {"year": 2008, "month": 2, "date": 11, "utc": true}, {"year": 2008, "month": 2, "date": 19, "utc": true}, {"year": 2008, "month": 2, "date": 25, "utc": true}, {"year": 2008, "month": 3, "date": 3, "utc": true}, {"year": 2008, "month": 3, "date": 10, "utc": true}, {"year": 2008, "month": 3, "date": 17, "utc": true}, {"year": 2008, "month": 3, "date": 24, "utc": true}, {"year": 2008, "month": 3, "date": 31, "utc": true}, {"year": 2008, "month": 4, "date": 7, "utc": true}, {"year": 2008, "month": 4, "date": 14, "utc": true}, {"year": 2008, "month": 4, "date": 21, "utc": true}, {"year": 2008, "month": 4, "date": 28, "utc": true}, {"year": 2008, "month": 5, "date": 5, "utc": true}, {"year": 2008, "month": 5, "date": 12, "utc": true}, {"year": 2008, "month": 5, "date": 19, "utc": true}, {"year": 2008, "month": 5, "date": 27, "utc": true}, {"year": 2008, "month": 6, "date": 2, "utc": true}, {"year": 2008, "month": 6, "date": 9, "utc": true}, {"year": 2008, "month": 6, "date": 16, "utc": true}, {"year": 2008, "month": 6, "date": 23, "utc": true}, {"year": 2008, "month": 6, "date": 30, "utc": true}, {"year": 2008, "month": 7, "date": 7, "utc": true}, {"year": 2008, "month": 7, "date": 14, "utc": true}],
                           "labelExpr": "utcFormat(datum.value, '%-d')",
                           "domain": true, "domainColor": "black", "domainWidth": 1, "ticks": true, "tickSize": 7, "tickColor": "black", "tickWidth": 1,
                           "labelAlign": "left", "labelBaseline": "middle", "labelPadding": -3.5, "labelDx": 1.5,
                           "labelFont": "Liberation Sans", "labelFontSize": 6, "labelFontWeight": "bold", "labelColor": "black",
                           "labelOverlap": false, "labelBound": false, "labelFlush": false, "grid": false, "title": null}},
            "y": {"datum": 68.86, "type": "quantitative", "axis": null,
                  "scale": {"domain": [27.29, 68.86], "range": [514, 376], "zero": false, "nice": false}},
            "y2": {"datum": 27.29}
          }
        },
        {
          "data": {"values": [{}]},
          "mark": {"type": "rule", "color": "black", "strokeWidth": 1.3},
          "encoding": {
            "x": {"datum": {"year": 2007, "month": 8, "date": 20, "utc": true}, "type": "temporal", "axis": null},
            "x2": {"datum": {"year": 2008, "month": 7, "date": 21, "utc": true}},
            "y": {"datum": 30, "type": "quantitative",
                  "axis": {"orient": "right", "offset": -34, "values": [35, 45, 55, 65], "domain": false, "grid": false, "labels": false, "tickSize": 1.5, "tickWidth": 1.2, "tickColor": "#333333", "title": null}}
          }
        },
        {
          "data": {"name": "rsi"},
          "mark": {"type": "line", "color": "black", "strokeWidth": 1.4},
          "encoding": {
            "x": {"field": "date", "type": "temporal",
                  "axis": {"orient": "bottom", "offset": -17,
                           "values": [{"year": 2007, "month": 9, "date": 4, "utc": true}, {"year": 2007, "month": 10, "date": 1, "utc": true}, {"year": 2007, "month": 11, "date": 5, "utc": true}, {"year": 2007, "month": 12, "date": 3, "utc": true}, {"year": 2007, "month": 12, "date": 31, "utc": true}, {"year": 2008, "month": 2, "date": 4, "utc": true}, {"year": 2008, "month": 3, "date": 3, "utc": true}, {"year": 2008, "month": 3, "date": 31, "utc": true}, {"year": 2008, "month": 5, "date": 5, "utc": true}, {"year": 2008, "month": 6, "date": 2, "utc": true}, {"year": 2008, "month": 6, "date": 30, "utc": true}],
                           "labelExpr": "utcmonth(datum.value + 259200000) == 0 ? '2008' : utcFormat(datum.value + 259200000, '%B')",
                           "domain": true, "domainColor": "black", "domainWidth": 1, "ticks": true, "tickSize": 10, "tickColor": "black", "tickWidth": 1,
                           "labelAlign": "left", "labelBaseline": "middle", "labelPadding": -2.3, "labelDx": 2,
                           "labelFont": "Liberation Sans", "labelFontSize": 6, "labelFontWeight": "bold", "labelColor": "#222222",
                           "labelOverlap": false, "labelBound": false, "labelFlush": false, "grid": false, "title": null}},
            "y": {"field": "value", "type": "quantitative",
                  "axis": {"orient": "right", "offset": -34, "values": [30, 40, 50, 60], "domain": false, "grid": false, "tickSize": 3, "tickWidth": 1, "tickColor": "black", "labelFont": "Liberation Sans", "labelFontSize": 12, "labelFontWeight": "bold", "labelColor": "black", "labelPadding": 2, "labelOverlap": false, "labelBound": false, "labelFlush": false, "title": null}}
          }
        },
        {
          "data": {"values": [{}]},
          "mark": {"type": "text", "text": "Relative Strength Index (40.6448)", "font": "Liberation Sans", "fontSize": 12, "fontWeight": "bold", "color": "black", "align": "center", "baseline": "middle"},
          "encoding": {
            "x": {"datum": {"year": 2008, "month": 2, "date": 7, "utc": true}, "type": "temporal", "axis": null},
            "y": {"datum": 66.15, "type": "quantitative", "axis": null}
          }
        }
      ]
    }
  ],
  "resolve": {"scale": {"y": "independent"}, "axis": {"y": "independent", "x": "independent"}}
}
